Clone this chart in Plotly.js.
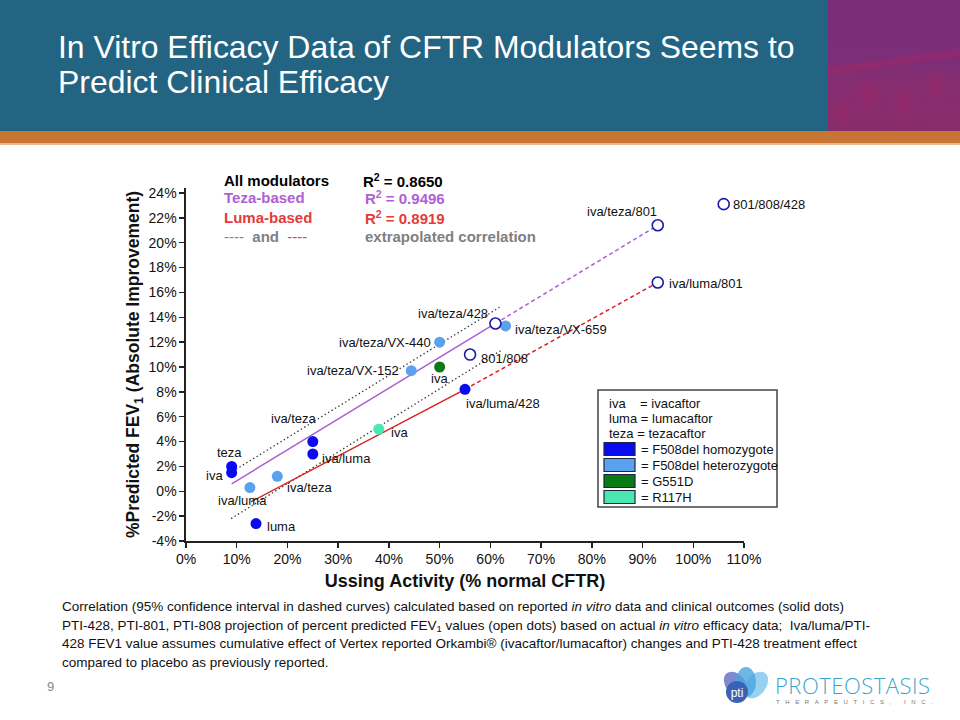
<!DOCTYPE html>
<html>
<head>
<meta charset="utf-8">
<script src="https://cdn.plot.ly/plotly-3.0.1.min.js"></script>
<style>
  html, body { margin:0; padding:0; background:#ffffff; }
  #page { position:relative; width:960px; height:720px; overflow:hidden; font-family:"Liberation Sans", Arial, sans-serif; }
  #band { position:absolute; left:0; top:0; width:960px; height:131px; background:#236482; }
  #pic { position:absolute; left:828px; top:0; width:132px; height:131px;
    background:
      radial-gradient(ellipse 13px 19px at 40px 95px, rgba(185,30,95,0.35), rgba(185,30,95,0) 100%),
      radial-gradient(ellipse 12px 18px at 75px 102px, rgba(185,30,95,0.3), rgba(185,30,95,0) 100%),
      radial-gradient(ellipse 11px 17px at 108px 86px, rgba(185,30,95,0.3), rgba(185,30,95,0) 100%),
      radial-gradient(ellipse 11px 15px at 14px 112px, rgba(185,30,95,0.3), rgba(185,30,95,0) 100%),
      linear-gradient(172deg, rgba(0,0,0,0) 0%, rgba(0,0,0,0) 44%, rgba(175,35,95,0.45) 47%, rgba(120,40,110,0.1) 52%, rgba(0,0,0,0) 100%),
      linear-gradient(180deg, #7a2d78 0%, #7c2e78 45%, #862e72 60%, #8a2c6a 100%); }
  #orange { position:absolute; left:0; top:131px; width:960px; height:12px; background:#c87533; }
  #orange2 { position:absolute; left:0; top:143px; width:960px; height:2px; background:#e9b88c; }
  #title { position:absolute; left:58px; top:30px; color:#ffffff; font-size:30px; line-height:35px; white-space:nowrap; }
  #chart { position:absolute; left:0; top:0; width:960px; height:720px; }
  #note { position:absolute; left:62px; top:598px; color:#111; font-size:13px; line-height:18.7px; white-space:nowrap; }
  #note sub { font-size:0.7em; vertical-align:-0.2em; line-height:0; }
  #pnum { position:absolute; left:47px; top:679px; color:#888; font-size:13px; }
  #logo { position:absolute; left:720px; top:666px; width:54px; height:42px; }
  #logoText { position:absolute; left:775px; top:674px; color:#3ba3cf; font-family:"Open Sans","Liberation Sans",sans-serif; font-weight:300; font-size:22px; line-height:22px; letter-spacing:0.5px; white-space:nowrap; }
  #logoSub { position:absolute; left:776px; top:699px; color:#777; font-size:6px; line-height:7px; letter-spacing:5.6px; white-space:nowrap; }
</style>
</head>
<body>
<div id="page">
  <div id="band"></div>
  <div id="pic"></div>
  <div id="orange"></div>
  <div id="orange2"></div>
  <div id="title"><span id="t1">In Vitro Efficacy Data of CFTR Modulators Seems to</span><br>Predict Clinical Efficacy</div>
  <div id="chart"></div>
  <div id="note"><span id="n1">Correlation (95% confidence interval in dashed curves) calculated based on reported <i>in vitro</i> data and clinical outcomes (solid dots)</span><br>PTI-428, PTI-801, PTI-808 projection of percent predicted FEV<sub>1</sub> values (open dots) based on actual <i>in vitro</i> efficacy data;&nbsp; Iva/luma/PTI-<br>428 FEV1 value assumes cumulative effect of Vertex reported Orkambi® (ivacaftor/lumacaftor) changes and PTI-428 treatment effect<br>compared to placebo as previously reported.</div>
  <div id="pnum">9</div>
  <svg id="logo" viewBox="0 0 54 42">
    <ellipse cx="16" cy="19" rx="10" ry="15" transform="rotate(-38 16 19)" fill="#6a74c6" opacity="0.85"/>
    <ellipse cx="36" cy="19" rx="10" ry="15" transform="rotate(38 36 19)" fill="#86c8ee" opacity="0.85"/>
    <ellipse cx="26" cy="16" rx="10" ry="15" fill="#4aa6e0" opacity="0.8"/>
    <circle cx="17" cy="26" r="11" fill="#3a62b4"/>
    <text x="17" y="30.5" fill="#ffffff" font-size="12" text-anchor="middle" font-family="Liberation Sans, Arial">pti</text>
  </svg>
  <div id="logoText">PROTEOSTASIS</div>
  <div id="logoSub">THERAPEUTICS, INC.</div>
</div>
<script>
// ---------------- DATA ----------------
const homoNames = ['teza', 'iva', 'luma', 'iva/teza', 'iva/luma', 'iva/luma/428'];
const homoX = [9, 9, 13.8, 25, 25, 55];
const homoY = [2.0, 1.5, -2.6, 4.0, 3.0, 8.2];

const hetNames = ['iva/luma', 'iva/teza', 'iva/teza/VX-152', 'iva/teza/VX-440', 'iva/teza/VX-659'];
const hetX = [12.6, 18, 44.4, 50, 63];
const hetY = [0.3, 1.2, 9.7, 12.0, 13.3];

const g551dNames = ['iva'];
const g551dX = [50];
const g551dY = [10.0];

const r117hNames = ['iva'];
const r117hX = [38];
const r117hY = [5.0];

const projNames = ['801/808', 'iva/teza/428', 'iva/teza/801', 'iva/luma/801', '801/808/428'];
const projX = [56, 61, 93, 93, 106];
const projY = [11.0, 13.5, 21.4, 16.8, 23.1];

const tezaFitX = [9, 61];
const tezaFitY = [0.6, 13.5];
const tezaExtX = [61, 93];
const tezaExtY = [13.5, 21.4];

const lumaFitX = [12.8, 55];
const lumaFitY = [-0.85, 8.2];
const lumaExtX = [55, 93];
const lumaExtY = [8.2, 16.8];

const ciUpperX = [9.2, 61.8];
const ciUpperY = [1.6, 14.8];
const ciLowerX = [8.9, 62];
const ciLowerY = [-2.2, 11.3];

const xTickVals = [0, 10, 20, 30, 40, 50, 60, 70, 80, 90, 100, 110];
const yTickVals = [-4, -2, 0, 2, 4, 6, 8, 10, 12, 14, 16, 18, 20, 22, 24];

const rSquaredAll = '0.8650';
const rSquaredTeza = '0.9496';
const rSquaredLuma = '0.8919';

// ---------------- STYLE / PLACEMENT ----------------
const FONT = 'Liberation Sans, Arial, sans-serif';
const C = {
  homo: '#0a0af0', het: '#5ba2ee', g551d: '#0a7a14', r117h: '#48e8b0',
  openLine: '#1b1ba6', purple: '#ad5fd2', purpleText: '#b060d4', red: '#d82222', redText: '#e53a3a', gray: '#808080'
};
// label placement: [xanchor, xshift, yshift] per point
const homoLab = [['center', -2, 14], ['right', -7, -3], ['left', 9, -3], ['center', -19, 23], ['left', 7, -5], ['left', -1, -14]];
const hetLab = [['center', -7, -13], ['left', 8, -11], ['right', -10, 0], ['right', -7, 0], ['left', 7, -4]];
const g551dLab = [['center', 0, -12]];
const r117hLab = [['left', 10, -3]];
const projLab = [['left', 9, -4], ['right', -5, 10], ['center', -36, 14], ['left', 9, -1], ['left', 7, 0]];

// plot geometry
const M = {l: 186, r: 216, t: 188, b: 179};
const PW = 960 - M.l - M.r, PH = 720 - M.t - M.b;
const px = v => (v - M.l) / PW;          // page pixel -> paper x
const py = v => (720 - M.b - v) / PH;     // page pixel -> paper y

function lineTrace(x, y, color, dash, width) {
  return {x: x, y: y, type: 'scatter', mode: 'lines', hoverinfo: 'skip', showlegend: false,
          line: {color: color, dash: dash, width: width}};
}
function dotTrace(x, y, names, color) {
  return {x: x, y: y, text: names, type: 'scatter', mode: 'markers', showlegend: false, cliponaxis: false,
          marker: {size: 11, color: color, line: {width: 0}}};
}

const traces = [
  lineTrace(ciUpperX, ciUpperY, '#333333', '1.4px,2.6px', 1.3),
  lineTrace(ciLowerX, ciLowerY, '#333333', '1.4px,2.6px', 1.3),
  lineTrace(tezaFitX, tezaFitY, C.purple, 'solid', 1.5),
  lineTrace(tezaExtX, tezaExtY, C.purple, '4px,3px', 1.5),
  lineTrace(lumaFitX, lumaFitY, C.red, 'solid', 1.5),
  lineTrace(lumaExtX, lumaExtY, C.red, '4px,3px', 1.5),
  dotTrace(homoX, homoY, homoNames, C.homo),
  dotTrace(hetX, hetY, hetNames, C.het),
  dotTrace(g551dX, g551dY, g551dNames, C.g551d),
  dotTrace(r117hX, r117hY, r117hNames, C.r117h),
  {x: projX, y: projY, text: projNames, type: 'scatter', mode: 'markers', showlegend: false, cliponaxis: false,
   marker: {size: 11, color: '#ffffff', line: {width: 1.6, color: C.openLine}}}
];

const annotations = [];
function addLabels(xs, ys, names, place) {
  names.forEach((n, i) => {
    const p = place[i];
    annotations.push({x: xs[i], y: ys[i], xref: 'x', yref: 'y', text: n, showarrow: false,
      xanchor: p[0], yanchor: 'middle', xshift: p[1], yshift: p[2],
      font: {family: FONT, size: 13, color: '#111111'}});
  });
}
addLabels(homoX, homoY, homoNames, homoLab);
addLabels(hetX, hetY, hetNames, hetLab);
addLabels(g551dX, g551dY, g551dNames, g551dLab);
addLabels(r117hX, r117hY, r117hNames, r117hLab);
addLabels(projX, projY, projNames, projLab);

function pageText(x, y, text, size, color, bold, anchor) {
  annotations.push({xref: 'paper', yref: 'paper', x: px(x), y: py(y), text: bold ? '<b>' + text + '</b>' : text,
    showarrow: false, xanchor: anchor || 'left', yanchor: 'middle',
    font: {family: FONT, size: size, color: color}});
}
// R-squared block
pageText(222, 180, 'All modulators', 15, '#000000', true);
pageText(361, 180, 'R<sup>2</sup> = ' + rSquaredAll, 15, '#000000', true);
pageText(222, 198, 'Teza-based', 15, C.purpleText, true);
pageText(363, 198, 'R<sup>2</sup> = ' + rSquaredTeza, 15, C.purpleText, true);
pageText(222, 217, 'Luma-based', 15, C.redText, true);
pageText(363, 217, 'R<sup>2</sup> = ' + rSquaredLuma, 15, C.redText, true);
pageText(222, 236, '<span style="color:' + C.purpleText + '">----</span>  <b>and</b>  <span style="color:' + C.redText + '">----</span>', 15, C.gray, false);
pageText(363, 236, 'extrapolated correlation', 15, C.gray, true);

// genotype key box text
const keyRows = [403, 418, 433, 449, 465, 481, 497];
pageText(607, keyRows[0], 'iva&nbsp;&nbsp;&nbsp;&nbsp;= ivacaftor', 13, '#111111', false);
pageText(607, keyRows[1], 'luma = lumacaftor', 13, '#111111', false);
pageText(607, keyRows[2], 'teza = tezacaftor', 13, '#111111', false);
pageText(639, keyRows[3], '= F508del homozygote', 13, '#111111', false);
pageText(639, keyRows[4], '= F508del heterozygote', 13, '#111111', false);
pageText(639, keyRows[5], '= G551D', 13, '#111111', false);
pageText(639, keyRows[6], '= R117H', 13, '#111111', false);

const shapes = [
  {type: 'rect', xref: 'paper', yref: 'paper', x0: px(598), x1: px(777), y0: py(507), y1: py(390),
   line: {color: '#444444', width: 1.5}, fillcolor: 'rgba(255,255,255,0)', layer: 'below'}
];
[C.homo, C.het, C.g551d, C.r117h].forEach((col, i) => {
  const yc = keyRows[3 + i];
  shapes.push({type: 'rect', xref: 'paper', yref: 'paper', x0: px(604), x1: px(635), y0: py(yc + 6.5), y1: py(yc - 6.5),
    line: {color: '#222244', width: 1.2}, fillcolor: col});
});

const layout = {
  width: 960, height: 720,
  margin: M,
  paper_bgcolor: 'rgba(0,0,0,0)', plot_bgcolor: 'rgba(0,0,0,0)',
  showlegend: false,
  font: {family: FONT, size: 14, color: '#111111'},
  xaxis: {
    range: [0, 110], tickvals: xTickVals, ticktext: xTickVals.map(v => v + '%'),
    showgrid: false, zeroline: false, showline: true, linecolor: '#222222', linewidth: 1.6,
    ticks: 'outside', ticklen: 5, tickwidth: 1.5, tickcolor: '#222222',
    tickfont: {family: FONT, size: 14, color: '#111111'},
    title: {text: '<b>Ussing Activity (% normal CFTR)</b>', font: {family: FONT, size: 18, color: '#111111'}, standoff: 8}
  },
  yaxis: {
    range: [-4, 24.4], tickvals: yTickVals, ticktext: yTickVals.map(v => v + '%'),
    showgrid: false, zeroline: false, showline: true, linecolor: '#222222', linewidth: 1.6,
    ticks: 'outside', ticklen: 5, tickwidth: 1.5, tickcolor: '#222222',
    tickfont: {family: FONT, size: 14, color: '#111111'},
    title: {text: '<b>%Predicted FEV<sub>1</sub> (Absolute Improvement)</b>', font: {family: FONT, size: 17.5, color: '#111111'}, standoff: 4}
  },
  annotations: annotations,
  shapes: shapes
};

Plotly.newPlot('chart', traces, layout, {displayModeBar: false, staticPlot: true});

// fit header title and footnote widths
function fit(elId, spanId, target) {
  const el = document.getElementById(elId), sp = document.getElementById(spanId);
  const w = sp.getBoundingClientRect().width;
  const fs = parseFloat(getComputedStyle(el).fontSize);
  if (w > 0) el.style.fontSize = (fs * target / w) + 'px';
}
fit('title', 't1', 737);
fit('note', 'n1', 783);
</script>
</body>
</html>
